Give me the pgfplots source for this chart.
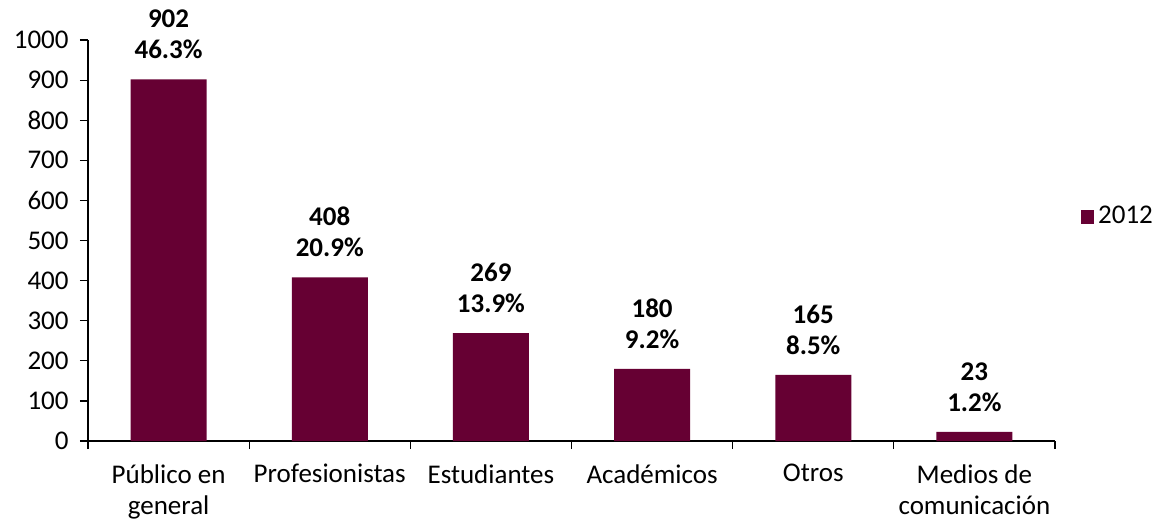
\documentclass[border=0pt]{standalone}
\usepackage{fontspec}
\setmainfont{Carlito}
\usepackage{pgfplots}
\pgfplotsset{compat=1.18}
\definecolor{barcol}{HTML}{660033}

\begin{document}
\fontsize{13.5pt}{15.5pt}\selectfont
\begin{tikzpicture}
\begin{axis}[
  scale only axis,
  width=483.5pt, height=200.5pt,
  ymin=0, ymax=1000,
  ytick={0,100,...,1000},
  xmin=-0.5, xmax=5.5,
  xtick={-0.5,0.5,...,5.5},
  x tick label as interval,
  xticklabels={P\'ublico en\\general,Profesionistas,Estudiantes,Acad\'emicos,Otros,Medios de\\comunicaci\'on},
  xticklabel style={align=center, yshift=-3pt},
  axis x line*=bottom, axis y line*=left,
  axis line style={line width=0.6pt},
  tick style={black, line width=0.6pt},
  tick align=outside,
  major tick length=4pt,
  tick label style={font=\fontsize{13.5pt}{15.5pt}\selectfont},
  /pgf/number format/assume math mode=true,
  yticklabel style={/pgf/number format/1000 sep={}, xshift=-1pt},
  ybar, bar width=38pt,
  point meta=explicit symbolic,
  nodes near coords,
  every node near coord/.append style={align=center, font=\fontsize{13.5pt}{15.5pt}\selectfont\bfseries, yshift=5.5pt},
  legend style={at={(1.026,0.559)}, anchor=west, draw=none, fill=none,
    font=\fontsize{13.5pt}{15.5pt}\selectfont, inner sep=0pt},
  legend image code/.code={\fill[barcol] (0pt,-3.4pt) rectangle (6.8pt,3.4pt);},
]
\addplot[fill=barcol, draw=none] coordinates {
  (0,902) [{902\\46.3\%}]
  (1,408) [{408\\20.9\%}]
  (2,269) [{269\\13.9\%}]
  (3,180) [{180\\9.2\%}]
  (4,165) [{165\\8.5\%}]
  (5,23)  [{23\\1.2\%}]
};
\addlegendentry{2012}
\end{axis}
\path ([xshift=-44pt,yshift=-40pt]current axis.south west) rectangle ([xshift=536pt,yshift=220.5pt]current axis.south west);
\end{tikzpicture}
\end{document}
